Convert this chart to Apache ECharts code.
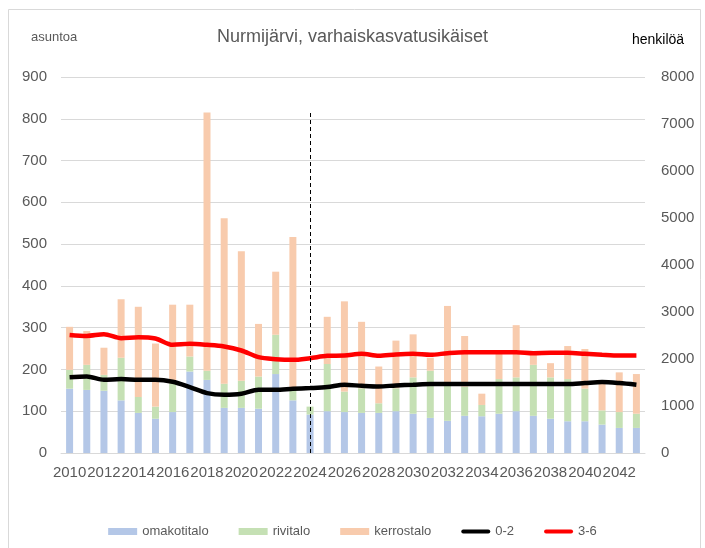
<!DOCTYPE html>
<html>
<head>
<meta charset="utf-8">
<script src="https://cdn.jsdelivr.net/npm/echarts@6/dist/echarts.min.js"></script>
<style>
  html, body { margin: 0; padding: 0; background: #fff; }
  #chart { width: 705px; height: 548px; }
</style>
</head>
<body>
<div id="chart"></div>
<script>
// vuodet
var years = [];
for (var y = 2010; y <= 2043; y++) years.push(String(y));

// asuntotuotanto (vasen akseli)
var omakotitalo = [154, 151, 149, 126, 96, 82, 98, 195, 175, 108, 108, 106, 189, 126, 92, 100, 98,
                   96, 96, 100, 94, 84, 77, 89, 88, 94, 100, 89, 82, 76, 76, 68, 60, 60];
var rivitalo    = [45, 60, 38, 102, 38, 29, 69, 36, 22, 58, 65, 77, 94, 25, 19, 113, 49,
                   59, 23, 55, 87, 113, 90, 70, 27, 83, 81, 122, 99, 101, 78, 34, 38, 34];
var kerrostalo  = [103, 81, 65, 140, 216, 151, 188, 124, 618, 396, 310, 126, 151, 366, 0, 113, 216,
                   159, 88, 114, 103, 31, 185, 121, 27, 60, 125, 24, 34, 79, 95, 64, 95, 95];

// ikäryhmät (oikea akseli)
var ika02 = [1614, 1628, 1558, 1572, 1558, 1558, 1515, 1402, 1274, 1239, 1260, 1345, 1345, 1366, 1381, 1402, 1451,
             1430, 1416, 1437, 1451, 1466, 1466, 1466, 1466, 1466, 1466, 1466, 1466, 1466, 1487, 1508, 1487, 1451];
var ika36 = [2513, 2492, 2528, 2443, 2464, 2436, 2301, 2322, 2301, 2266, 2181, 2039, 1997, 1982, 2018, 2067, 2074,
             2110, 2067, 2096, 2110, 2089, 2124, 2145, 2145, 2145, 2145, 2124, 2131, 2131, 2110, 2089, 2074, 2074];

// ennusteen raja
var rajaVuosi = '2024';
var rajaYla = 820;

var fontti = 'Liberation Sans, Arial, sans-serif';
var harmaa = '#595959';
var viivaIkoni = 'path://M2,0h25a2,2 0 0 1 0,4h-25a2,2 0 0 1 0,-4z';

var myChart = echarts.init(document.getElementById('chart'));

var option = {
    animation: false,
    backgroundColor: '#fff',
    textStyle: { fontFamily: fontti },
    title: {
        text: 'Nurmijärvi, varhaiskasvatusikäiset',
        left: 'center',
        top: 23,
        textStyle: { fontFamily: fontti, fontSize: 18, fontWeight: 'normal', color: harmaa }
    },
    graphic: [
        {
            type: 'rect', left: 6, top: 7, silent: true,
            shape: { width: 692, height: 560 },
            style: { fill: 'none', stroke: '#d9d9d9', lineWidth: 1 }
        },
        {
            type: 'text', left: 31, top: 31,
            style: { text: 'asuntoa', font: '13px ' + fontti, fill: harmaa }
        },
        {
            type: 'text', left: 632, top: 33,
            style: { text: 'henkilöä', font: '14px ' + fontti, fill: '#000' }
        }
    ],
    legend: {
        left: 'center',
        top: 520,
        itemWidth: 29,
        itemHeight: 7,
        itemGap: 30,
        textStyle: { fontFamily: fontti, fontSize: 13, color: harmaa },
        data: [
            { name: 'omakotitalo', icon: 'rect' },
            { name: 'rivitalo', icon: 'rect' },
            { name: 'kerrostalo', icon: 'rect' },
            { name: '0-2', icon: viivaIkoni },
            { name: '3-6', icon: viivaIkoni }
        ]
    },
    grid: { left: 61, right: 60, top: 77, bottom: 95 },
    xAxis: {
        type: 'category',
        data: years,
        axisTick: { show: false },
        axisLine: { lineStyle: { color: '#d9d9d9' } },
        axisLabel: { interval: 1, fontSize: 15, color: harmaa, margin: 12 }
    },
    yAxis: [
        {
            type: 'value',
            min: 0, max: 900, interval: 100,
            axisLabel: { fontSize: 15, color: harmaa, margin: 14 },
            splitLine: { lineStyle: { color: '#d9d9d9' } }
        },
        {
            type: 'value',
            min: 0, max: 8000, interval: 1000,
            axisLabel: { fontSize: 15, color: harmaa, margin: 16, formatter: function (v) { return String(v); } },
            splitLine: { show: false }
        }
    ],
    series: [
        {
            name: 'omakotitalo', type: 'bar', stack: 'asunnot', barWidth: 7,
            itemStyle: { color: '#b4c7e7' },
            data: omakotitalo,
            markLine: {
                silent: true,
                symbol: 'none',
                label: { show: false },
                lineStyle: { color: '#000', type: [4, 3], width: 1 },
                data: [[{ coord: [rajaVuosi, 0] }, { coord: [rajaVuosi, rajaYla] }]]
            }
        },
        {
            name: 'rivitalo', type: 'bar', stack: 'asunnot', barWidth: 7,
            itemStyle: { color: '#c5e0b4' },
            data: rivitalo
        },
        {
            name: 'kerrostalo', type: 'bar', stack: 'asunnot', barWidth: 7,
            itemStyle: { color: '#f8cbad' },
            data: kerrostalo
        },
        {
            name: '0-2', type: 'line', yAxisIndex: 1, smooth: 0.3, symbol: 'none',
            symbolKeepAspect: true,
            lineStyle: { color: '#000', width: 4.5 },
            itemStyle: { color: '#000' },
            data: ika02
        },
        {
            name: '3-6', type: 'line', yAxisIndex: 1, smooth: 0.3, symbol: 'none',
            symbolKeepAspect: true,
            lineStyle: { color: '#ff0000', width: 4.5 },
            itemStyle: { color: '#ff0000' },
            data: ika36
        }
    ]
};

myChart.setOption(option);
</script>
</body>
</html>
